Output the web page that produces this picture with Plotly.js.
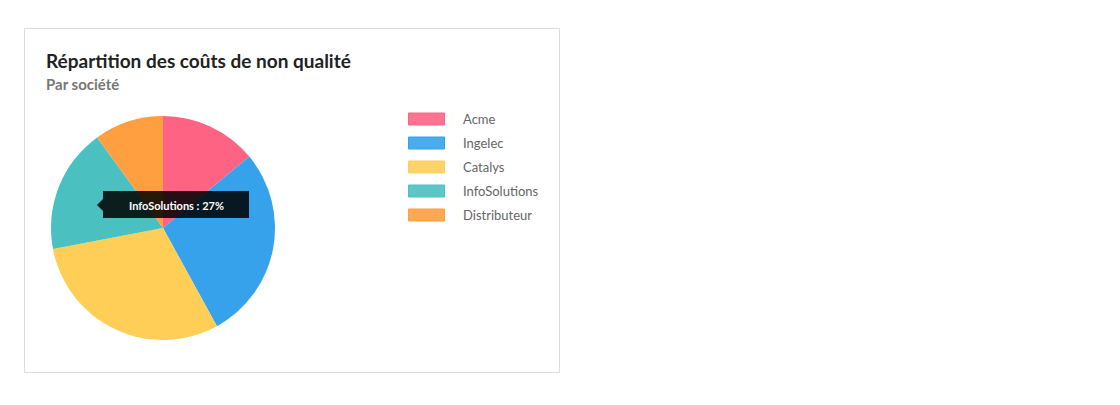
<!DOCTYPE html>
<html>
<head>
<meta charset="utf-8">
<script src="https://cdn.plot.ly/plotly-3.0.1.min.js"></script>
<style>
  body { margin: 0; background: #fff; }
  #chart { width: 1120px; height: 405px; }
</style>
</head>
<body>
<div id="chart"></div>
<script>
// data
var labels = ['Acme', 'Ingelec', 'Catalys', 'InfoSolutions', 'Distributeur'];
var values = [14, 28, 30, 18, 10];
var colors = ['rgb(255,99,132)', 'rgb(54,162,235)', 'rgb(255,206,86)', 'rgb(75,192,192)', 'rgb(255,159,64)'];
var tooltipText = 'InfoSolutions : 27%';

var W = 1120, H = 405;
function px(x) { return x / W; }
function py(y) { return 1 - y / H; }

var trace = {
  type: 'pie',
  labels: labels,
  values: values,
  marker: { colors: colors, line: { width: 0 } },
  sort: false,
  direction: 'clockwise',
  rotation: 0,
  textinfo: 'none',
  hoverinfo: 'none',
  domain: { x: [px(51), px(275)], y: [py(340), py(116)] }
};

var shapes = [
  // card
  { type: 'rect', xref: 'paper', yref: 'paper', x0: px(24.5), x1: px(559.5), y0: py(372.5), y1: py(28.5),
    line: { color: '#dcdcdc', width: 1 }, fillcolor: 'rgba(0,0,0,0)', layer: 'below' },
  // tooltip
  { type: 'rect', xref: 'paper', yref: 'paper', x0: px(103), x1: px(249), y0: py(218), y1: py(191),
    line: { width: 0 }, fillcolor: 'rgba(0,0,0,0.85)' },
  { type: 'path', xref: 'paper', yref: 'paper',
    path: 'M ' + px(103) + ' ' + py(199) + ' L ' + px(97) + ' ' + py(205) + ' L ' + px(103) + ' ' + py(211) + ' Z',
    line: { width: 0 }, fillcolor: 'rgba(0,0,0,0.85)' }
];

var annotations = [
  { text: '<b>Répartition des coûts de non qualité</b>', xref: 'paper', yref: 'paper', x: px(44), y: py(60),
    xanchor: 'left', yanchor: 'middle', showarrow: false, font: { family: 'Lato', size: 19, color: '#222' } },
  { text: '<b>Par société</b>', xref: 'paper', yref: 'paper', x: px(44), y: py(84),
    xanchor: 'left', yanchor: 'middle', showarrow: false, font: { family: 'Lato', size: 15, color: '#777' } },
  { text: '<b>' + tooltipText + '</b>', xref: 'paper', yref: 'paper', x: px(176), y: py(205),
    xanchor: 'center', yanchor: 'middle', showarrow: false, font: { family: 'Lato', size: 11, color: '#fff' } }
];

// legend built from labels/colors
labels.forEach(function (name, i) {
  var yc = 119 + i * 24;
  shapes.push({ type: 'rect', xref: 'paper', yref: 'paper', x0: px(408.5), x1: px(444.5), y0: py(yc + 6), y1: py(yc - 6),
    fillcolor: colors[i].replace('rgb', 'rgba').replace(')', ',0.9)'), line: { color: colors[i], width: 1 } });
  annotations.push({ text: name, xref: 'paper', yref: 'paper', x: px(461), y: py(yc),
    xanchor: 'left', yanchor: 'middle', showarrow: false, font: { family: 'Lato', size: 13, color: '#666' } });
});

var layout = {
  width: W, height: H,
  margin: { l: 0, r: 0, t: 0, b: 0 },
  paper_bgcolor: '#fff',
  showlegend: false,
  shapes: shapes,
  annotations: annotations
};

Plotly.newPlot('chart', [trace], layout, { displayModeBar: false, staticPlot: true });
</script>
</body>
</html>
